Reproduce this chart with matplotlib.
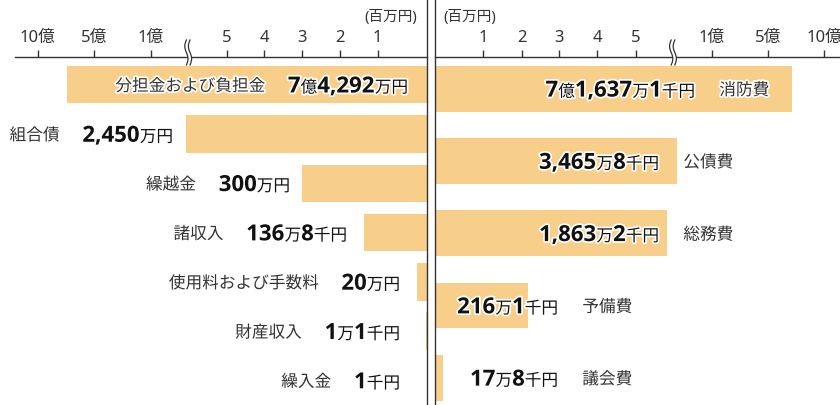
import re
import numpy as np
import matplotlib
matplotlib.use('Agg')
import matplotlib.pyplot as plt
import matplotlib.transforms as mtransforms
from matplotlib import patheffects
from matplotlib.lines import Line2D
from matplotlib.patches import Polygon

plt.rcParams['font.family'] = ['Noto Sans', 'Noto Sans CJK JP', 'DejaVu Sans']

# revenue (left) - values in 万円
rev_names = ['分担金および負担金', '組合債', '繰越金', '諸収入', '使用料および手数料', '財産収入', '繰入金']
rev_values = [74292, 2450, 300, 136.8, 20, 1.1, 0.1]
rev_labels = ['7億4,292万円', '2,450万円', '300万円', '136万8千円', '20万円', '1万1千円', '1千円']

# expenditure (right)
exp_names = ['消防費', '公債費', '総務費', '予備費', '議会費']
exp_values = [71637.1, 3465.8, 1863.2, 216.1, 17.8]
exp_labels = ['7億1,637万1千円', '3,465万8千円', '1,863万2千円', '216万1千円', '17万8千円']

tick_vals = [100, 200, 300, 400, 500, 10000, 50000, 100000]
tick_labels = ['1', '2', '3', '4', '5', '1億', '5億', '10億']

# broken axis: piecewise scale, value (万円) -> pixels from the centre line
L_SCALE_V = [0, 100, 200, 300, 400, 500, 2450, 10000, 50000, 100000, 200000]
L_SCALE_P = [0, 49, 86.7, 124.7, 162.4, 200, 241, 275.7, 332.4, 389, 502.2]
R_SCALE_V = [0, 100, 200, 300, 400, 500, 1863.2, 3465.8, 10000, 50000, 100000, 200000]
R_SCALE_P = [0, 48.8, 87.2, 124.8, 162.8, 201.2, 232.2, 242.2, 277.2, 333.2, 389.8, 503]

# label right edges (px from centre line)
L_LABEL_POS = [18.7, 253.7, 136.7, 79.7, 26.7, 26.7, 26.7]
R_LABEL_POS = [260.5, 224.5, 224.5, 123.5, 123.5]

W, H = 840, 405
L_W = 426.7
R_X0 = 434.5
R_W = W - R_X0
AXIS_Y = 57          # px from top
BREAK_PX = 238.5

BAR = '#F8CE8B'
DARK = '#333333'

fig = plt.figure(figsize=(W / 100, H / 100), dpi=100)
axL = fig.add_axes([0, 0, L_W / W, 1])
axR = fig.add_axes([R_X0 / W, 0, R_W / W, 1])


def setup(ax, sv, sp, width, left_side):
    fwd = lambda x: np.interp(x, sv, sp)
    inv = lambda y: np.interp(y, sp, sv)
    ax.set_xscale('function', functions=(fwd, inv))
    if left_side:
        ax.set_xlim(inv(width), 0)
    else:
        ax.set_xlim(0, inv(width))
    for s in ['left', 'right', 'bottom', 'top']:
        ax.spines[s].set_visible(False)
    edge = 'right' if left_side else 'left'
    ax.spines[edge].set_visible(True)
    ax.spines[edge].set_color(DARK)
    ax.spines[edge].set_linewidth(1.0)
    top = ax.spines['top']
    top.set_visible(True)
    top.set_position(('axes', 1 - AXIS_Y / H))
    top.set_color(DARK)
    top.set_linewidth(1.0)
    if left_side:
        top.set_bounds(inv(width - 15), 0)
    else:
        top.set_bounds(0, inv(width))
    ax.xaxis.tick_top()
    ax.set_xticks(tick_vals)
    ax.set_xticklabels(tick_labels)
    ax.tick_params(axis='x', direction='out', length=5, width=1.0, colors=DARK,
                   labelsize=12, pad=3)
    ax.set_yticks([])
    ax.patch.set_alpha(0)


setup(axL, L_SCALE_V, L_SCALE_P, L_W, True)
setup(axR, R_SCALE_V, R_SCALE_P, R_W, False)

axL.set_ylim(6.497, -1.718)
axR.set_ylim(4.376, -1.229)

axL.barh(range(len(rev_values)), rev_values, height=0.76, color=BAR, zorder=1)
axR.barh(range(len(exp_values)), exp_values, height=0.632, color=BAR, zorder=1)

halo = [patheffects.withStroke(linewidth=2.5, foreground='white')]


def put_value(ax, xfrac, row, label):
    trans = mtransforms.blended_transform_factory(ax.transAxes, ax.transData)
    pieces = re.findall(r'[\d,]+|[^\d,]+', label)
    prev = None
    right = None
    for piece in reversed(pieces):
        big = piece[0].isdigit()
        kw = dict(fontsize=16 if big else 12, fontweight='bold' if big else 'normal',
                  color='#111111', ha='right', va='baseline', path_effects=halo,
                  textcoords='offset points', xytext=(0, -5.6), zorder=5)
        if big:
            kw['family'] = ['Open Sans', 'Noto Sans CJK JP']
        if prev is None:
            t = ax.annotate(piece, xy=(xfrac, row), xycoords=trans, **kw)
            right = t
        else:
            t = ax.annotate(piece, xy=(0, row), xycoords=(prev, ax.transData), **kw)
        prev = t
    return prev, right


for i, (name, lab) in enumerate(zip(rev_names, rev_labels)):
    leftmost, _ = put_value(axL, 1 - L_LABEL_POS[i] / L_W, i, lab)
    axL.annotate(name, xy=(0, i), xycoords=(leftmost, axL.transData),
                 xytext=(-16.5, -4.5), textcoords='offset points', ha='right',
                 va='baseline', fontsize=12, color=DARK, path_effects=halo, zorder=5)

for i, (name, lab) in enumerate(zip(exp_names, exp_labels)):
    _, rightmost = put_value(axR, R_LABEL_POS[i] / R_W, i, lab)
    axR.annotate(name, xy=(1, i), xycoords=(rightmost, axR.transData),
                 xytext=(17.5, -4.5), textcoords='offset points', ha='left',
                 va='baseline', fontsize=12, color=DARK, path_effects=halo, zorder=5)

unit_y = 1 - 17.5 / H
axL.text(1 - 9.7 / L_W, unit_y, '(百万円)', transform=axL.transAxes, ha='right',
         va='center', fontsize=10.5, color=DARK)
axR.text(8.5 / R_W, unit_y, '(百万円)', transform=axR.transAxes, ha='left',
         va='center', fontsize=10.5, color=DARK)


# break marks on the axis line
def draw_break(x0_px):
    t = np.linspace(0, 1, 40)
    ys = H - (40 + 25 * t)
    wave = 1.6 * np.sin(2 * np.pi * t + np.pi)
    c1 = x0_px - 1.8 + wave
    c2 = x0_px + 1.8 + wave
    pts = np.vstack([np.column_stack([c1, ys]), np.column_stack([c2[::-1], ys[::-1]])])
    pts = pts / [W, H]
    fig.add_artist(Polygon(pts, closed=True, fc='white', ec='none',
                           transform=fig.transFigure, zorder=3))
    for c in (c1, c2):
        fig.add_artist(Line2D(c / W, ys / H, color=DARK, lw=0.9,
                              transform=fig.transFigure, zorder=4))


draw_break(L_W - BREAK_PX)
draw_break(R_X0 + BREAK_PX)

fig.savefig('out.png', dpi=100)
